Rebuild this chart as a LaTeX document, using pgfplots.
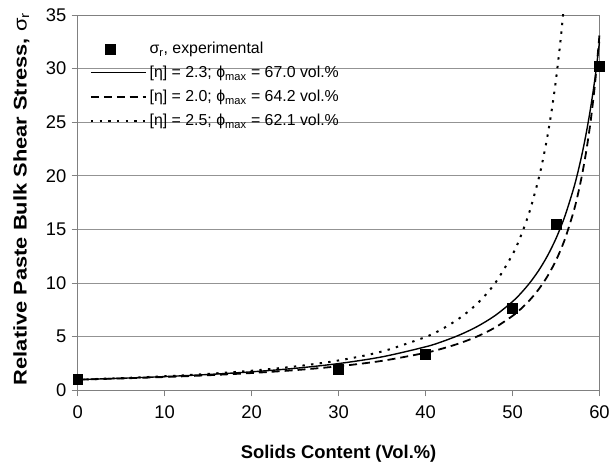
\documentclass[border=0pt]{standalone}
\usepackage{fontspec}
\setmainfont{Liberation Sans}
\usepackage{graphicx}
\usepackage{pgfplots}
\pgfplotsset{compat=1.18}
\pgfplotsset{
  markleg/.style={legend image code/.code={\draw[##1] plot coordinates {(19bp,0bp)};}},
  lineleg/.style={legend image code/.code={\draw[##1] (0bp,0bp) -- (55bp,0bp);}},
}

\begin{document}
\begin{tikzpicture}
  \begin{axis}[
      scale only axis,
      width=524bp, height=377bp,
      xmin=0, xmax=60, ymin=0, ymax=35,
      xtick={0,10,...,60}, ytick={0,5,...,35},
      xtick pos=bottom, ytick pos=left,
      tick align=outside, major tick length=6bp,
      tick style={gray, line width=0.8bp},
      axis line style={gray, line width=0.8bp},
      ymajorgrids, grid style={gray!85, line width=0.8bp},
      /pgf/number format/assume math mode=true,
      ticklabel style={font=\fontsize{18.5}{20}\selectfont},
      xticklabel style={yshift=-6bp},
      yticklabel style={xshift=-2bp},
      xlabel={Solids Content (Vol.\%)},
      ylabel={\scalebox{1.19}[1]{Relative Paste Bulk Shear Stress, {\mdseries σ\textsubscript{r}}}},
      every axis x label/.style={at={(axis description cs:0.5,-0.17)},anchor=center,
        font=\bfseries\fontsize{18.5}{20}\selectfont},
      every axis y label/.style={at={(axis description cs:-0.108,0.51)},anchor=center,rotate=90,
        font=\bfseries\fontsize{18.5}{20}\selectfont},
      clip=false,
      legend style={draw=none, fill=none, at={(axis description cs:0.023,0.933)},
        anchor=north west, inner sep=0pt, row sep=7bp,
        nodes={inner xsep=3bp},
        font=\fontsize{16}{18}\selectfont},
      legend cell align=left,
    ]

    % experimental points
    \addplot[only marks, mark=square*, mark size=5bp, black, markleg]
      coordinates {(0,1.0) (30,2.0) (40,3.4) (50,7.7) (55,15.5) (60,30.2)};
    \addlegendentry{σ\textsubscript{r}, experimental}

    % [eta]=2.3, phi_max=67.0
    \addplot[black, line width=1.4bp, smooth, lineleg]
      coordinates {(0,1) (5,1.127) (10,1.283) (15,1.478) (20,1.727) (25,2.054)
        (30,2.497) (35,3.123) (40,4.058) (42,4.569) (44,5.195) (46,5.977)
        (48,6.974) (50,8.277) (51,9.087) (52,10.038) (53,11.164) (54,12.514)
        (55,14.158) (56,16.189) (57,18.751) (57.5,20.289) (58,22.057)
        (58.5,24.087) (59,26.446) (59.5,29.20) (60,32.49)};
    \addlegendentry{[η] = 2.3; ϕ\textsubscript{max} = 67.0 vol.\%}

    % [eta]=2.0, phi_max=64.2
    \addplot[black, line width=1.8bp, smooth, dash pattern=on 8bp off 5bp, lineleg]
      coordinates {(0,1) (5,1.110) (10,1.243) (15,1.407) (20,1.615) (25,1.884)
        (30,2.245) (35,2.750) (40,3.500) (42,3.910) (44,4.414) (46,5.046)
        (48,5.860) (50,6.940) (51,7.622) (52,8.434) (53,9.411) (54,10.613)
        (55,12.117) (56,14.046) (57,16.600) (57.5,18.204) (58,20.113)
        (58.5,22.41) (59,25.207) (59.5,28.70) (60,33.17)};
    \addlegendentry{[η] = 2.0; ϕ\textsubscript{max} = 64.2 vol.\%}

    % [eta]=2.5, phi_max=62.1
    \addplot[black, line width=2bp, smooth, dash pattern=on 2.4bp off 6.3bp, lineleg]
      coordinates {(0,1) (5,1.139) (10,1.313) (15,1.536) (20,1.828) (25,2.225)
        (30,2.786) (35,3.623) (40,4.973) (42,5.762) (44,6.780) (46,8.132)
        (48,9.992) (50,12.669) (51,14.485) (52,16.772) (53,19.718)
        (53.5,21.53) (54,23.626) (54.5,26.08) (55,28.986) (55.5,32.466)
        (55.85,35.33)};
    \addlegendentry{[η] = 2.5; ϕ\textsubscript{max} = 62.1 vol.\%}

    % page frame, same margins as the reference picture
    \coordinate (bl) at (axis description cs:-0.1489,-0.2016);
    \coordinate (tr) at (axis description cs:1.021,1.0398);
  \end{axis}
  \path (bl) rectangle (tr);
\end{tikzpicture}
\end{document}
